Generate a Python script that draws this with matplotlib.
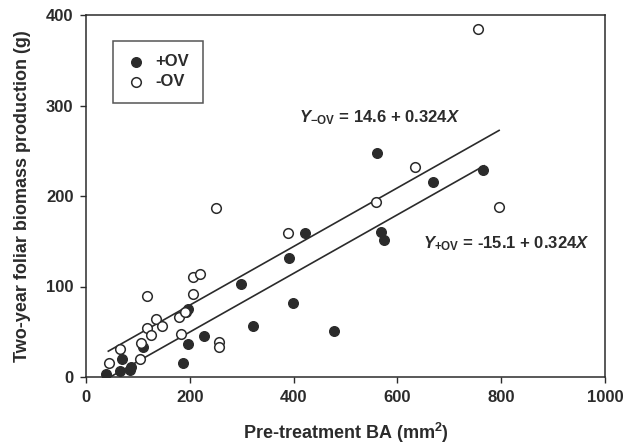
import matplotlib
matplotlib.use("Agg")
from matplotlib import pyplot as plt
import numpy as np

plt.rcParams['font.family'] = ['Liberation Sans', 'DejaVu Sans']
plt.rcParams['mathtext.fontset'] = 'custom'
plt.rcParams['mathtext.rm'] = 'Liberation Sans:bold'
plt.rcParams['mathtext.it'] = 'Liberation Sans:bold:italic'
plt.rcParams['mathtext.bf'] = 'Liberation Sans:bold'

# +OV trees (filled)
ba_plus = [38, 65, 70, 85, 87, 110, 186, 197, 197, 192, 227, 298, 322, 392, 399, 422, 477,
           561, 568, 575, 669, 764]
bio_plus = [3, 7, 20, 8, 11, 33, 16, 36, 75, 72, 45, 103, 56, 131, 82, 159, 51,
            247, 160, 151, 215, 229]

# -OV trees (open)
ba_minus = [45, 66, 105, 106, 117, 117, 125, 134, 146, 179, 184, 190, 206, 206, 219,
            250, 257, 257, 389, 558, 634, 755, 795]
bio_minus = [16, 31, 20, 38, 90, 54, 46, 64, 56, 66, 48, 72, 92, 110, 114,
             187, 39, 33, 159, 193, 232, 384, 188]

# fitted lines
int_minus, int_plus, slope = 14.6, -15.1, 0.324
line_minus_x = [43, 796]
line_plus_x = [47, 767]

ink = '#2b2b2b'

fig = plt.figure(figsize=(6.23, 4.45), dpi=100)
ax = fig.add_axes([86/623, 1 - 377/445, (605-86)/623, (377-15)/445])

xm = np.array(line_minus_x)
xp = np.array(line_plus_x)
ax.plot(xm, int_minus + slope*xm, color=ink, lw=1.2)
ax.plot(xp, int_plus + slope*xp, color=ink, lw=1.2)

ax.scatter(ba_plus, bio_plus, s=48, facecolor=ink, edgecolor=ink, lw=1, zorder=3, label='+OV')
ax.scatter(ba_minus, bio_minus, s=48, facecolor='white', edgecolor=ink, lw=1.1, zorder=3, label='-OV')

ax.set_xlim(0, 1000)
ax.set_ylim(0, 400)
ax.set_xticks([0, 200, 400, 600, 800, 1000])
ax.set_yticks([0, 100, 200, 300, 400])
ax.tick_params(direction='out', length=4, width=1, color=ink, labelcolor=ink, labelsize=12, pad=5)
for lab in ax.get_xticklabels() + ax.get_yticklabels():
    lab.set_fontweight('bold')
for sp in ax.spines.values():
    sp.set_color(ink)
    sp.set_linewidth(1.1)

ax.set_xlabel('Pre-treatment BA (mm$^2$)', fontsize=13, fontweight='bold', color=ink, labelpad=12)
ax.set_ylabel('Two-year foliar biomass production (g)', fontsize=13, fontweight='bold', color=ink, labelpad=11)

ax.text(410, 287, r'$Y_{\mathrm{-OV}}$ = 14.6 + 0.324$X$',
        fontsize=12, fontweight='bold', color=ink, va='center')
ax.text(650, 147, r'$Y_{\mathrm{+OV}}$ = -15.1 + 0.324$X$',
        fontsize=12, fontweight='bold', color=ink, va='center')

leg = ax.legend(loc='upper left', bbox_to_anchor=(0.052, 0.928), borderaxespad=0,
                frameon=True, fancybox=False, edgecolor=ink, borderpad=0.8,
                handlelength=1.2, handletextpad=0.55, labelspacing=0.3,
                prop={'weight': 'bold', 'size': 12})
leg.get_frame().set_linewidth(1.1)
for t in leg.get_texts():
    t.set_color(ink)

fig.savefig('out.png', dpi=100)
